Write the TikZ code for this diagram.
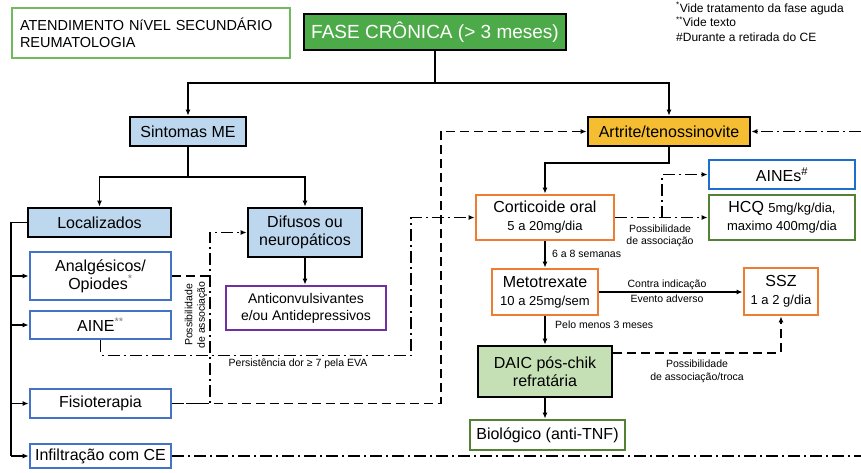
\documentclass[tikz,border=0pt]{standalone}
\usepackage{fontspec}
\setmainfont{Liberation Sans}
\usetikzlibrary{arrows.meta}
\definecolor{faseg}{RGB}{76,170,72}
\definecolor{lblue}{RGB}{189,215,238}
\definecolor{artrc}{RGB}{245,189,50}
\definecolor{lgreen}{RGB}{197,224,180}
\definecolor{orng}{RGB}{237,125,49}
\definecolor{blu}{RGB}{68,114,196}
\definecolor{blu2}{RGB}{30,110,205}
\definecolor{purp}{RGB}{112,48,160}
\definecolor{grn}{RGB}{84,130,53}
\definecolor{grn2}{RGB}{112,185,95}
\newcommand{\lblfont}{\fontsize{10.5}{12.5}\selectfont}
\newcommand{\subfnt}{\fontsize{13}{15}\selectfont}
\begin{document}
\begin{tikzpicture}[x=1pt,y=-1pt,
    every node/.style={font=\fontsize{16}{18}\selectfont, align=center, inner sep=0pt},
    bx/.style={draw=#1, line width=2.8pt},
    kbx/.style={draw, line width=2.7pt, fill=#1},
    lbl/.style={font=\lblfont},
    ln/.style={line width=1.8pt},
    conn/.style={line width=1.8pt, -{Latex[length=6pt,width=5pt]}},
    dsh/.style={dash pattern=on 9pt off 5pt},
    ddot/.style={dash pattern=on 12pt off 4pt on 2pt off 4pt}]
    \useasboundingbox (0,0) rectangle (861,472);

    \node[bx=grn2, minimum width=278pt, minimum height=50pt, text width=262pt, align=left, font=\fontsize{14.5}{17}\selectfont] (atend) at (151,33) {ATENDIMENTO NíVEL SECUNDÁRIO\\REUMATOLOGIA};
    \node[kbx=faseg, minimum width=262pt, minimum height=36pt, text=white, font=\fontsize{19}{21}\selectfont] (fase) at (435,32) {FASE CRÔNICA (> 3 meses)};
    \node[anchor=north west, align=left, font=\fontsize{12}{14.5}\selectfont] (notas) at (676,2) {\textsuperscript{*}Vide tratamento da fase aguda\\\textsuperscript{**}Vide texto\\\#Durante a retirada do CE};

    \node[kbx=lblue, minimum width=116pt, minimum height=29pt] (sint) at (188,131.5) {Sintomas ME};
    \node[kbx=artrc, minimum width=162pt, minimum height=29pt] (artr) at (669,131.5) {Artrite/tenossinovite};
    \node[kbx=lblue, minimum width=143pt, minimum height=29pt] (loc) at (99.5,222.5) {Localizados};
    \node[kbx=lblue, minimum width=114pt, minimum height=49pt] (dif) at (305,232.5) {Difusos ou\\neuropáticos};
    \node[bx=purp, minimum width=160pt, minimum height=44pt, font=\fontsize{14}{17}\selectfont] (anti) at (306,308) {Anticonvulsivantes\\e/ou Antidepressivos};
    \node[bx=blu, minimum width=141pt, minimum height=48pt] (anal) at (100.5,276) {Analgésicos/\\Opiodes{\color{gray}\textsuperscript{*}}};
    \node[bx=blu, minimum width=141pt, minimum height=28pt] (aine) at (100.5,325) {AINE{\color{gray}\textsuperscript{**}}};
    \node[bx=blu, minimum width=141pt, minimum height=29pt] (fisio) at (100.5,403.5) {Fisioterapia};
    \node[bx=blu, minimum width=141pt, minimum height=24pt] (infil) at (100.5,456) {Infiltração com CE};

    \node[bx=orng, minimum width=138pt, minimum height=45pt] (cort) at (545,217.5) {Corticoide oral\\{\subfnt 5 a 20mg/dia}};
    \node[bx=blu2, minimum width=146pt, minimum height=29pt] (aines) at (782,174.5) {AINEs\textsuperscript{\#}};
    \node[bx=grn, minimum width=146pt, minimum height=45pt] (hcq) at (782,217.5) {HCQ {\subfnt 5mg/kg/dia,}\\{\subfnt maximo 400mg/dia}};
    \node[bx=orng, minimum width=106pt, minimum height=46pt] (mtx) at (545,292) {Metotrexate\\{\subfnt 10 a 25mg/sem}};
    \node[bx=orng, minimum width=74pt, minimum height=47pt] (ssz) at (781,291.5) {SSZ\\{\subfnt 1 a 2 g/dia}};
    \node[kbx=lgreen, minimum width=134pt, minimum height=51pt] (daic) at (545,371.5) {DAIC pós-chik\\refratária};
    \node[bx=grn, minimum width=155pt, minimum height=30pt] (bio) at (547.5,435) {Biológico (anti-TNF)};

    \node[lbl] (persist) at (298,364) {Persistência dor ≥ 7 pela EVA};
    \node[lbl, rotate=90] (possA) at (196,315) {Possibilidade\\de associação};
    \node[lbl] (possB) at (660,236) {Possibilidade\\de associação};
    \node[lbl, anchor=west] (sem) at (552,254) {6 a 8 semanas};
    \node[lbl, anchor=west] (meses) at (555,325) {Pelo menos 3 meses};
    \node[lbl] (contra) at (667,285) {Contra indicação};
    \node[lbl] (evento) at (667,299) {Evento adverso};
    \node[lbl] (possC) at (697,371.5) {Possibilidade\\de associação/troca};

    \coordinate (j1) at (435,83);
    \coordinate (v1) at (210,232.5);
    \coordinate (v2) at (441,131.5);
    \coordinate (v3) at (411,217.5);
    \coordinate (v4) at (662,217.5);
    \coordinate (eR1) at (861,131.5);
    \coordinate (eR2) at (861,456);

    \draw[ln] (fase.south) -- (j1);
    \draw[conn] (j1) -| (sint.north);
    \draw[conn] (j1) -| (artr.north);
    \draw[ln] (sint.south) -- ++(0,30) coordinate (j2);
    \draw[conn] (j2) -| (loc.north);
    \draw[conn] (j2) -| (dif.north);
    \draw[conn] (dif.south) -- (dif.south |- anti.north);
    \draw[ln] (loc.west) -- ++(-16,0) coordinate (t0) -- (t0 |- infil);
    \foreach \n in {anal,aine,fisio,infil}
        \draw[conn] (t0 |- \n) -- (\n.west);

    \draw[ln, dsh] (anal.east) -- (anal.east -| v1);
    \draw[conn, ddot] (fisio.east) -| (v1) -- (dif.west);
    \draw[conn, dsh] (fisio.east) -| (v2) -- (artr.west);
    \draw[conn, ddot] (aine.south) -- ++(0,15) -| (v3) -- (cort.west);
    \draw[ln, ddot] (infil.east) -- (eR2);
    \draw[conn, ddot] (eR1) -- (artr.east);

    \draw[conn] (artr.south) -- ++(0,16) -| (cort.north);
    \draw[conn] (cort.south) -- (mtx.north);
    \draw[conn] (mtx.south) -- (daic.north);
    \draw[conn] (daic.south) -- (daic.south |- bio.north);
    \draw[conn] (mtx.east) -- (mtx.east -| ssz.west);
    \draw[conn, ddot] (cort.east) -- (hcq.west);
    \draw[conn, ddot] (v4) |- (aines.west);
    \draw[conn, dsh] ([yshift=-8pt]daic.north east) -| (ssz.south);
\end{tikzpicture}
\end{document}
